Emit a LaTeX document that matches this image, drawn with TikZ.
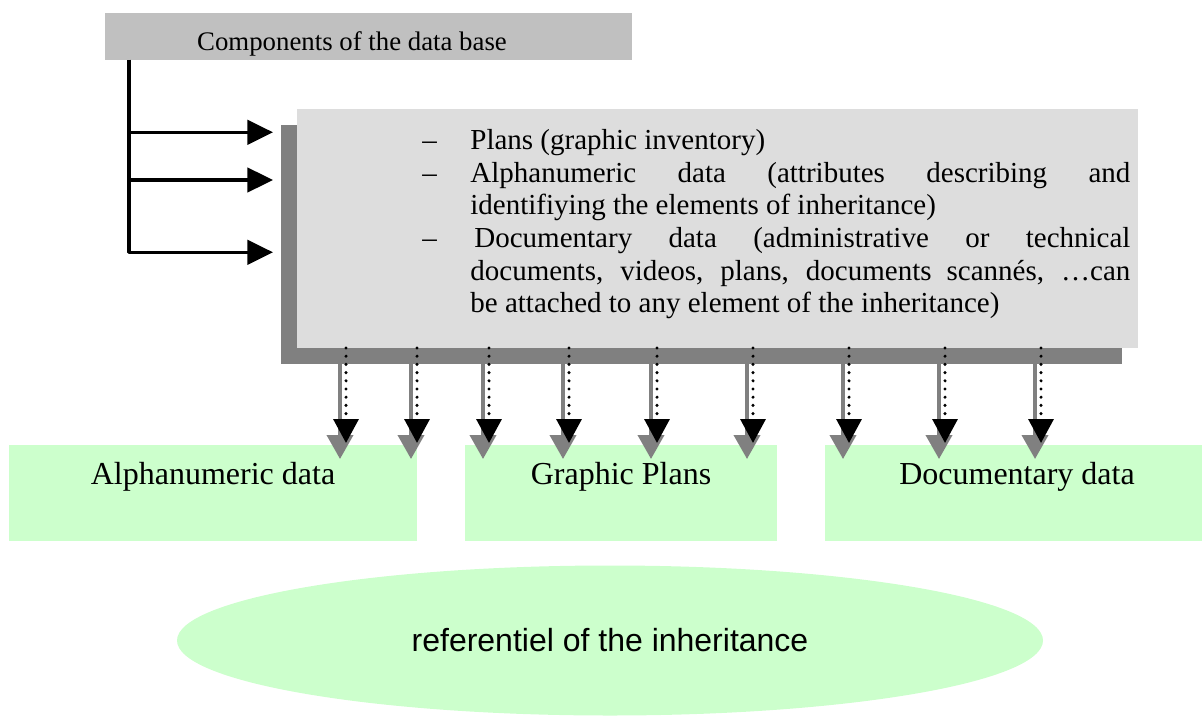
\documentclass[tikz,border=0pt]{standalone}
\usepackage{fontspec}
\setmainfont{Liberation Serif}
\newfontfamily\arialfont{Liberation Sans}
\usepackage{xcolor}
\usepackage{tikz}
\usetikzlibrary{shapes,arrows,arrows.meta,calc,shadows,positioning}

\definecolor{boxgray}{HTML}{C0C0C0}
\definecolor{panelgray}{HTML}{DDDDDD}
\definecolor{shadowgray}{HTML}{808080}
\definecolor{palegreen}{HTML}{CCFFCC}

\newcommand{\compfont}{\fontsize{13.4}{16}\selectfont}
\newcommand{\itemfont}{\fontsize{14.5}{16.3}\selectfont}
\newcommand{\boxfont}{\fontsize{16}{19}\selectfont}
\newcommand{\listentry}{\par\hangindent=24pt\hangafter=1\noindent
  \makebox[24pt][l]{--}}

\begin{document}
\begin{tikzpicture}[x=0.5pt, y=-0.5pt, node distance=24pt,
  >={Triangle[length=12.8pt,width=12.2pt]}]
\tikzset{block/.style = {rectangle, inner sep=0pt, outer sep=0pt},
  feed/.style = {->, line width=1.6pt, line join=round},
  dotarrow/.style = {-{Triangle[length=12pt,width=12.5pt]},
    line width=1.7pt, line cap=round, dash pattern=on 0pt off 4.1pt},
  shadowarrow/.style = {-{Triangle[length=12pt,width=13pt]},
    draw=shadowgray, fill=shadowgray, line width=2pt},
  greenbox/.style = {block, fill=palegreen, minimum height=48pt}}

  \useasboundingbox (0,0) rectangle (1202,727);

  \node[block, fill=boxgray, minimum width=263.5pt, minimum height=23.5pt,
    label={[anchor=base, xshift=-8.25pt, yshift=-3.9pt, font=\compfont]
    center:Components of the data base}]
    (components) at (368.5,36.5) {};

  \node[block, fill=panelgray, minimum width=420.5pt, minimum height=119.5pt,
    drop shadow={shadow xshift=-8pt, shadow yshift=-8pt,
      fill=shadowgray, opacity=1}]
    (content) at (717.5,228.5) {};

  \node[anchor=base west, text width=354pt, align=justify, inner sep=0pt,
    font=\itemfont] (items) at ([shift={(125,8)}]content.north west)
    {\listentry Plans (graphic inventory)
     \listentry Alphanumeric data (attributes describing and\linebreak
       identifiying the elements of inheritance)
     \listentry\hspace{2pt}Documentary data (administrative or technical\linebreak
       documents, videos, plans, documents scannés, …can\linebreak
       be attached to any element of the inheritance)\par};

  \node[greenbox, minimum width=204pt,
    label={[anchor=base, yshift=8pt, font=\boxfont]center:Alphanumeric data}]
    (alphanumeric) at (213,493) {};
  \node[greenbox, minimum width=156pt, right=of alphanumeric,
    label={[anchor=base, yshift=8pt, font=\boxfont]center:Graphic Plans}]
    (graphicplans) {};
  \node[greenbox, minimum width=188.5pt, right=of graphicplans,
    label={[anchor=base, xshift=1.75pt, yshift=8pt, font=\boxfont]
    center:Documentary data}]
    (documentary) {};

  \node[ellipse, fill=palegreen, minimum width=433pt, minimum height=75pt,
    inner sep=0pt, font=\arialfont\boxfont]
    (referentiel) at (610,640.5) {referentiel of the inheritance};

  % feeds into the component list
  \coordinate (trunk) at ([xshift=12pt]components.south west);
  \foreach \dy in {23.3,71,143.3}
    \draw[feed] (trunk) |- ([shift={(-24,\dy)}]content.north west);

  % data flowing down to the three stores
  \foreach \dx in {49,120,192,272,360,456,552,648,744} {
    \coordinate (top) at ([shift={(\dx,0)}]content.south west);
    \coordinate (tip) at ([yshift=1pt]top |- alphanumeric.north);
    \draw[shadowarrow] ([shift={(-6,16)}]top) -- ([shift={(-6,16)}]tip);
    \draw[dotarrow] (top) -- (tip);
  }

\end{tikzpicture}
\end{document}
